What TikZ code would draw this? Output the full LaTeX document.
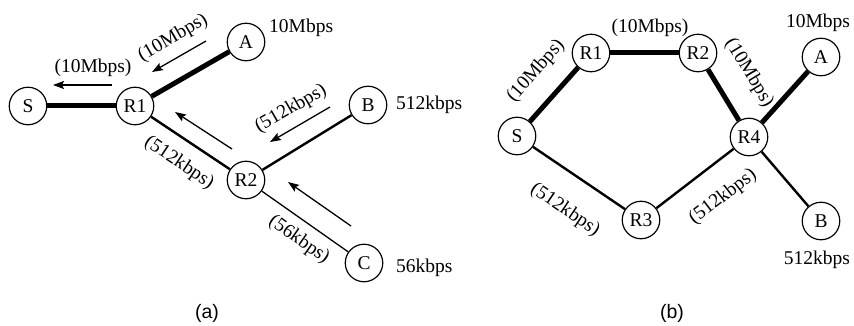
\documentclass[tikz,border=0pt]{standalone}
\usepackage{fontspec}
\setmainfont{Liberation Serif}
\newfontfamily\capfont{Liberation Sans}
\usetikzlibrary{arrows.meta}
\tikzset{
  nd/.style={circle,draw,line width=1.2pt,minimum size=37.5pt,inner sep=0pt,font=\fontsize{19.5}{21}\selectfont},
  lbl/.style={inner sep=0pt,font=\fontsize{19.5}{21}\selectfont},
  captext/.style={inner sep=0pt,font=\capfont\fontsize{19.5}{21}\selectfont},
  thickl/.style={line width=5pt},
  medl/.style={line width=2.4pt},
  thinl/.style={line width=1.3pt},
  flow/.style={line width=1.3pt,-{Stealth[length=11pt,width=8pt,inset=2pt]}}
}
\begin{document}
\begin{tikzpicture}[x=1pt,y=-1pt]
\useasboundingbox (0,0) rectangle (854,326);
% ---------- (a) ----------
\node[nd] (aS) at (28,106) {S};
\node[nd] (aR1) at (135,106) {R1};
\node[nd] (aA) at (246,42) {A};
\node[nd] (aR2) at (246,180) {R2};
\node[nd] (aB) at (368,105) {B};
\node[nd] (aC) at (364,263) {C};
\draw[thickl] (aS) -- (aR1);
\draw[thickl] (aR1) -- (aA);
\draw[medl] (aR1) -- (aR2);
\draw[medl] (aR2) -- (aB);
\draw[thinl] (aR2) -- (aC);
\node[lbl,anchor=west] (aAr) at (269,28) {10Mbps};
\node[lbl,anchor=west] (aBr) at (396,105) {512kbps};
\node[lbl,anchor=west] (aCr) at (396,268) {56kbps};
\node[lbl] (l1) at (93,68) {(10Mbps)};
\node[lbl,rotate=30] (l2) at (173,38) {(10Mbps)};
\node[lbl,rotate=-33.7] (l3) at (179,163) {(512kbps)};
\node[lbl,rotate=30] (l4) at (291,109) {(512kbps)};
\node[lbl,rotate=-35] (l5) at (299,240) {(56kbps)};
\coordinate (a1s) at (112,85); \coordinate (a1e) at (53,85);
\coordinate (a2s) at (206,41); \coordinate (a2e) at (152,72);
\coordinate (a3s) at (232,149); \coordinate (a3e) at (175,112);
\coordinate (a4s) at (330,107); \coordinate (a4e) at (270,142);
\coordinate (a5s) at (351,226); \coordinate (a5e) at (288,182);
\draw[flow] (a1s) -- (a1e);
\draw[flow] (a2s) -- (a2e);
\draw[flow] (a3s) -- (a3e);
\draw[flow] (a4s) -- (a4e);
\draw[flow] (a5s) -- (a5e);
\node[captext] (capa) at (207,313) {(a)};
% ---------- (b) ----------
\node[nd] (bS) at (517,136) {S};
\node[nd] (bR1) at (591,53) {R1};
\node[nd] (bR2) at (698,53) {R2};
\node[nd] (bA) at (821,57) {A};
\node[nd] (bR4) at (749,137) {R4};
\node[nd] (bR3) at (641,220) {R3};
\node[nd] (bB) at (821,221) {B};
\draw[thickl] (bS) -- (bR1);
\draw[thickl] (bR1) -- (bR2);
\draw[thickl] (bR2) -- (bR4);
\draw[thickl] (bR4) -- (bA);
\draw[medl] (bS) -- (bR3);
\draw[medl] (bR3) -- (bR4);
\draw[medl] (bR4) -- (bB);
\node[lbl] (bAr) at (818,23) {10Mbps};
\node[lbl] (bBr) at (817,260) {512kbps};
\node[lbl] (m1) at (650,28) {(10Mbps)};
\node[lbl,rotate=48.7] (m2) at (536,71) {(10Mbps)};
\node[lbl,rotate=-58.7] (m3) at (749,73) {(10Mbps)};
\node[lbl,rotate=-34] (m4) at (565,210) {(512kbps)};
\node[lbl,rotate=37.5] (m5) at (723,197) {(512kbps)};
\node[captext] (capb) at (672,313) {(b)};
\end{tikzpicture}
\end{document}
